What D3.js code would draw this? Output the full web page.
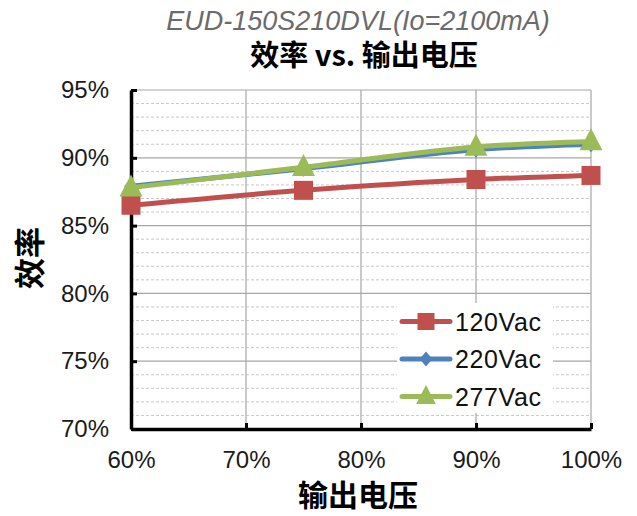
<!DOCTYPE html>
<html>
<head>
<meta charset="utf-8">
<script src="https://cdn.jsdelivr.net/npm/d3@7"></script>
<style>
  body { margin: 0; background: #fff; }
  svg text { font-family: "Liberation Sans", Arial, sans-serif; }
  .cjk { font-family: "Noto Sans CJK SC", sans-serif; font-weight: 700; }
</style>
</head>
<body>
<svg id="chart" width="637" height="516"></svg>
<script>
// Output voltage (fraction of rated) on the x axis
const loads = [0.60, 0.75, 0.90, 1.00];
// Efficiency at each input voltage
const eff120 = [0.865, 0.876, 0.884, 0.887];
const eff220 = [0.879, 0.892, 0.906, 0.910];
const eff277 = [0.878, 0.893, 0.908, 0.912];
const seriesNames = ["120Vac", "220Vac", "277Vac"];
const xTicks = [0.6, 0.7, 0.8, 0.9, 1.0];
const yTicks = [0.70, 0.75, 0.80, 0.85, 0.90, 0.95];

const series = [
  { name: seriesNames[0], values: eff120, color: "#C0504D", marker: "square" },
  { name: seriesNames[1], values: eff220, color: "#4F81BD", marker: "diamond" },
  { name: seriesNames[2], values: eff277, color: "#9BBB59", marker: "triangle" }
];

const svg = d3.select("#chart");
const L = 131, R = 591, T = 90, B = 429;
const x = d3.scaleLinear().domain([0.6, 1.0]).range([L, R]);
const y = d3.scaleLinear().domain([0.70, 0.95]).range([B, T]);
const pct = d3.format(".0%");

// Minor dashed gridlines every 1%
const minor = d3.range(0.70, 0.951, 0.01).filter(v => Math.round(v * 100) % 5 !== 0);
svg.append("g").selectAll("line").data(minor).join("line")
  .attr("x1", L).attr("x2", R)
  .attr("y1", d => y(d)).attr("y2", d => y(d))
  .attr("stroke", "#c8c8c8").attr("stroke-width", 1).attr("stroke-dasharray", "3,2");

// Major gridlines
svg.append("g").selectAll("line").data(yTicks.slice(1)).join("line")
  .attr("x1", L).attr("x2", R)
  .attr("y1", d => y(d)).attr("y2", d => y(d))
  .attr("stroke", "#a6a6a6").attr("stroke-width", 1.2);
svg.append("g").selectAll("line").data(xTicks.slice(1)).join("line")
  .attr("x1", d => x(d)).attr("x2", d => x(d))
  .attr("y1", T).attr("y2", B)
  .attr("stroke", "#a6a6a6").attr("stroke-width", 1.2);

// Axes: heavy black lines with inward ticks
const yAxis = d3.axisLeft(y).tickValues(yTicks).tickFormat(pct).tickSizeInner(-6).tickSizeOuter(0).tickPadding(22);
const gy = svg.append("g").attr("transform", `translate(${L},0)`).call(yAxis);
gy.select(".domain").attr("stroke", "#000").attr("stroke-width", 3.5);
gy.selectAll(".tick line").attr("stroke", "#000").attr("stroke-width", 3);
gy.selectAll(".tick text").attr("font-size", 24).attr("fill", "#1a1a1a")
  .attr("font-family", "Liberation Sans, Arial, sans-serif");

const xAxis = d3.axisBottom(x).tickValues(xTicks).tickFormat(pct).tickSizeInner(-6).tickSizeOuter(0).tickPadding(22);
const gx = svg.append("g").attr("transform", `translate(0,${B})`).call(xAxis);
gx.select(".domain").attr("stroke", "#000").attr("stroke-width", 3.5);
gx.selectAll(".tick line").attr("stroke", "#000").attr("stroke-width", 3);
gx.selectAll(".tick text").attr("font-size", 24).attr("fill", "#1a1a1a")
  .attr("font-family", "Liberation Sans, Arial, sans-serif");

// Lines
const line = d3.line().x((d, i) => x(loads[i])).y(d => y(d)).curve(d3.curveMonotoneX);

function markerPath(kind, size) {
  if (kind === "square") return d3.symbol(d3.symbolSquare, size * size)();
  if (kind === "diamond") {
    const s = size / 2;
    return `M0,${-s}L${s * 0.85},0L0,${s}L${-s * 0.85},0Z`;
  }
  const h = size;
  return `M0,${-h * 0.6}L${h * 0.52},${h * 0.4}L${-h * 0.52},${h * 0.4}Z`;
}
const markerSize = { square: 19, diamond: 16, triangle: 22 };

// Draw order: 120, 220, 277 on top
series.forEach(s => {
  svg.append("path").datum(s.values)
    .attr("d", line).attr("fill", "none")
    .attr("stroke", s.color).attr("stroke-width", 5).attr("stroke-linejoin", "round");
  svg.append("g").selectAll("path").data(s.values).join("path")
    .attr("transform", (d, i) => `translate(${x(loads[i])},${y(d)})`)
    .attr("d", markerPath(s.marker, markerSize[s.marker]))
    .attr("fill", s.color);
});

// Legend
const lg = svg.append("g");
lg.append("rect").attr("x", 397).attr("y", 303).attr("width", 156).attr("height", 110).attr("fill", "#fff");
const legendSize = { square: 17, diamond: 15, triangle: 19 };
series.forEach((s, i) => {
  const cy = 321.5 + i * 37.5;
  lg.append("line").attr("x1", 402).attr("x2", 450).attr("y1", cy).attr("y2", cy)
    .attr("stroke", s.color).attr("stroke-width", 5).attr("stroke-linecap", "round");
  lg.append("path").attr("transform", `translate(426,${cy})`)
    .attr("d", markerPath(s.marker, legendSize[s.marker])).attr("fill", s.color);
  lg.append("text").attr("x", 455).attr("y", cy + 9).attr("font-size", 25)
    .attr("letter-spacing", 0.6).attr("fill", "#111")
    .text(s.name);
});

// Titles
svg.append("text").attr("x", 358).attr("y", 30).attr("text-anchor", "middle")
  .attr("font-size", 27).attr("font-style", "italic").attr("fill", "#6b6b6b")
  .text("EUD-150S210DVL(Io=2100mA)");
svg.append("text").attr("class", "cjk").attr("x", 364).attr("y", 66).attr("text-anchor", "middle")
  .attr("font-size", 29).attr("fill", "#000")
  .text("效率 vs. 输出电压");
svg.append("text").attr("class", "cjk").attr("x", 358).attr("y", 506).attr("text-anchor", "middle")
  .attr("font-size", 30).attr("fill", "#000").text("输出电压");
svg.append("text").attr("class", "cjk").attr("transform", "translate(41,258) rotate(-90)")
  .attr("text-anchor", "middle").attr("font-size", 31).attr("fill", "#000").text("效率");
</script>
</body>
</html>
